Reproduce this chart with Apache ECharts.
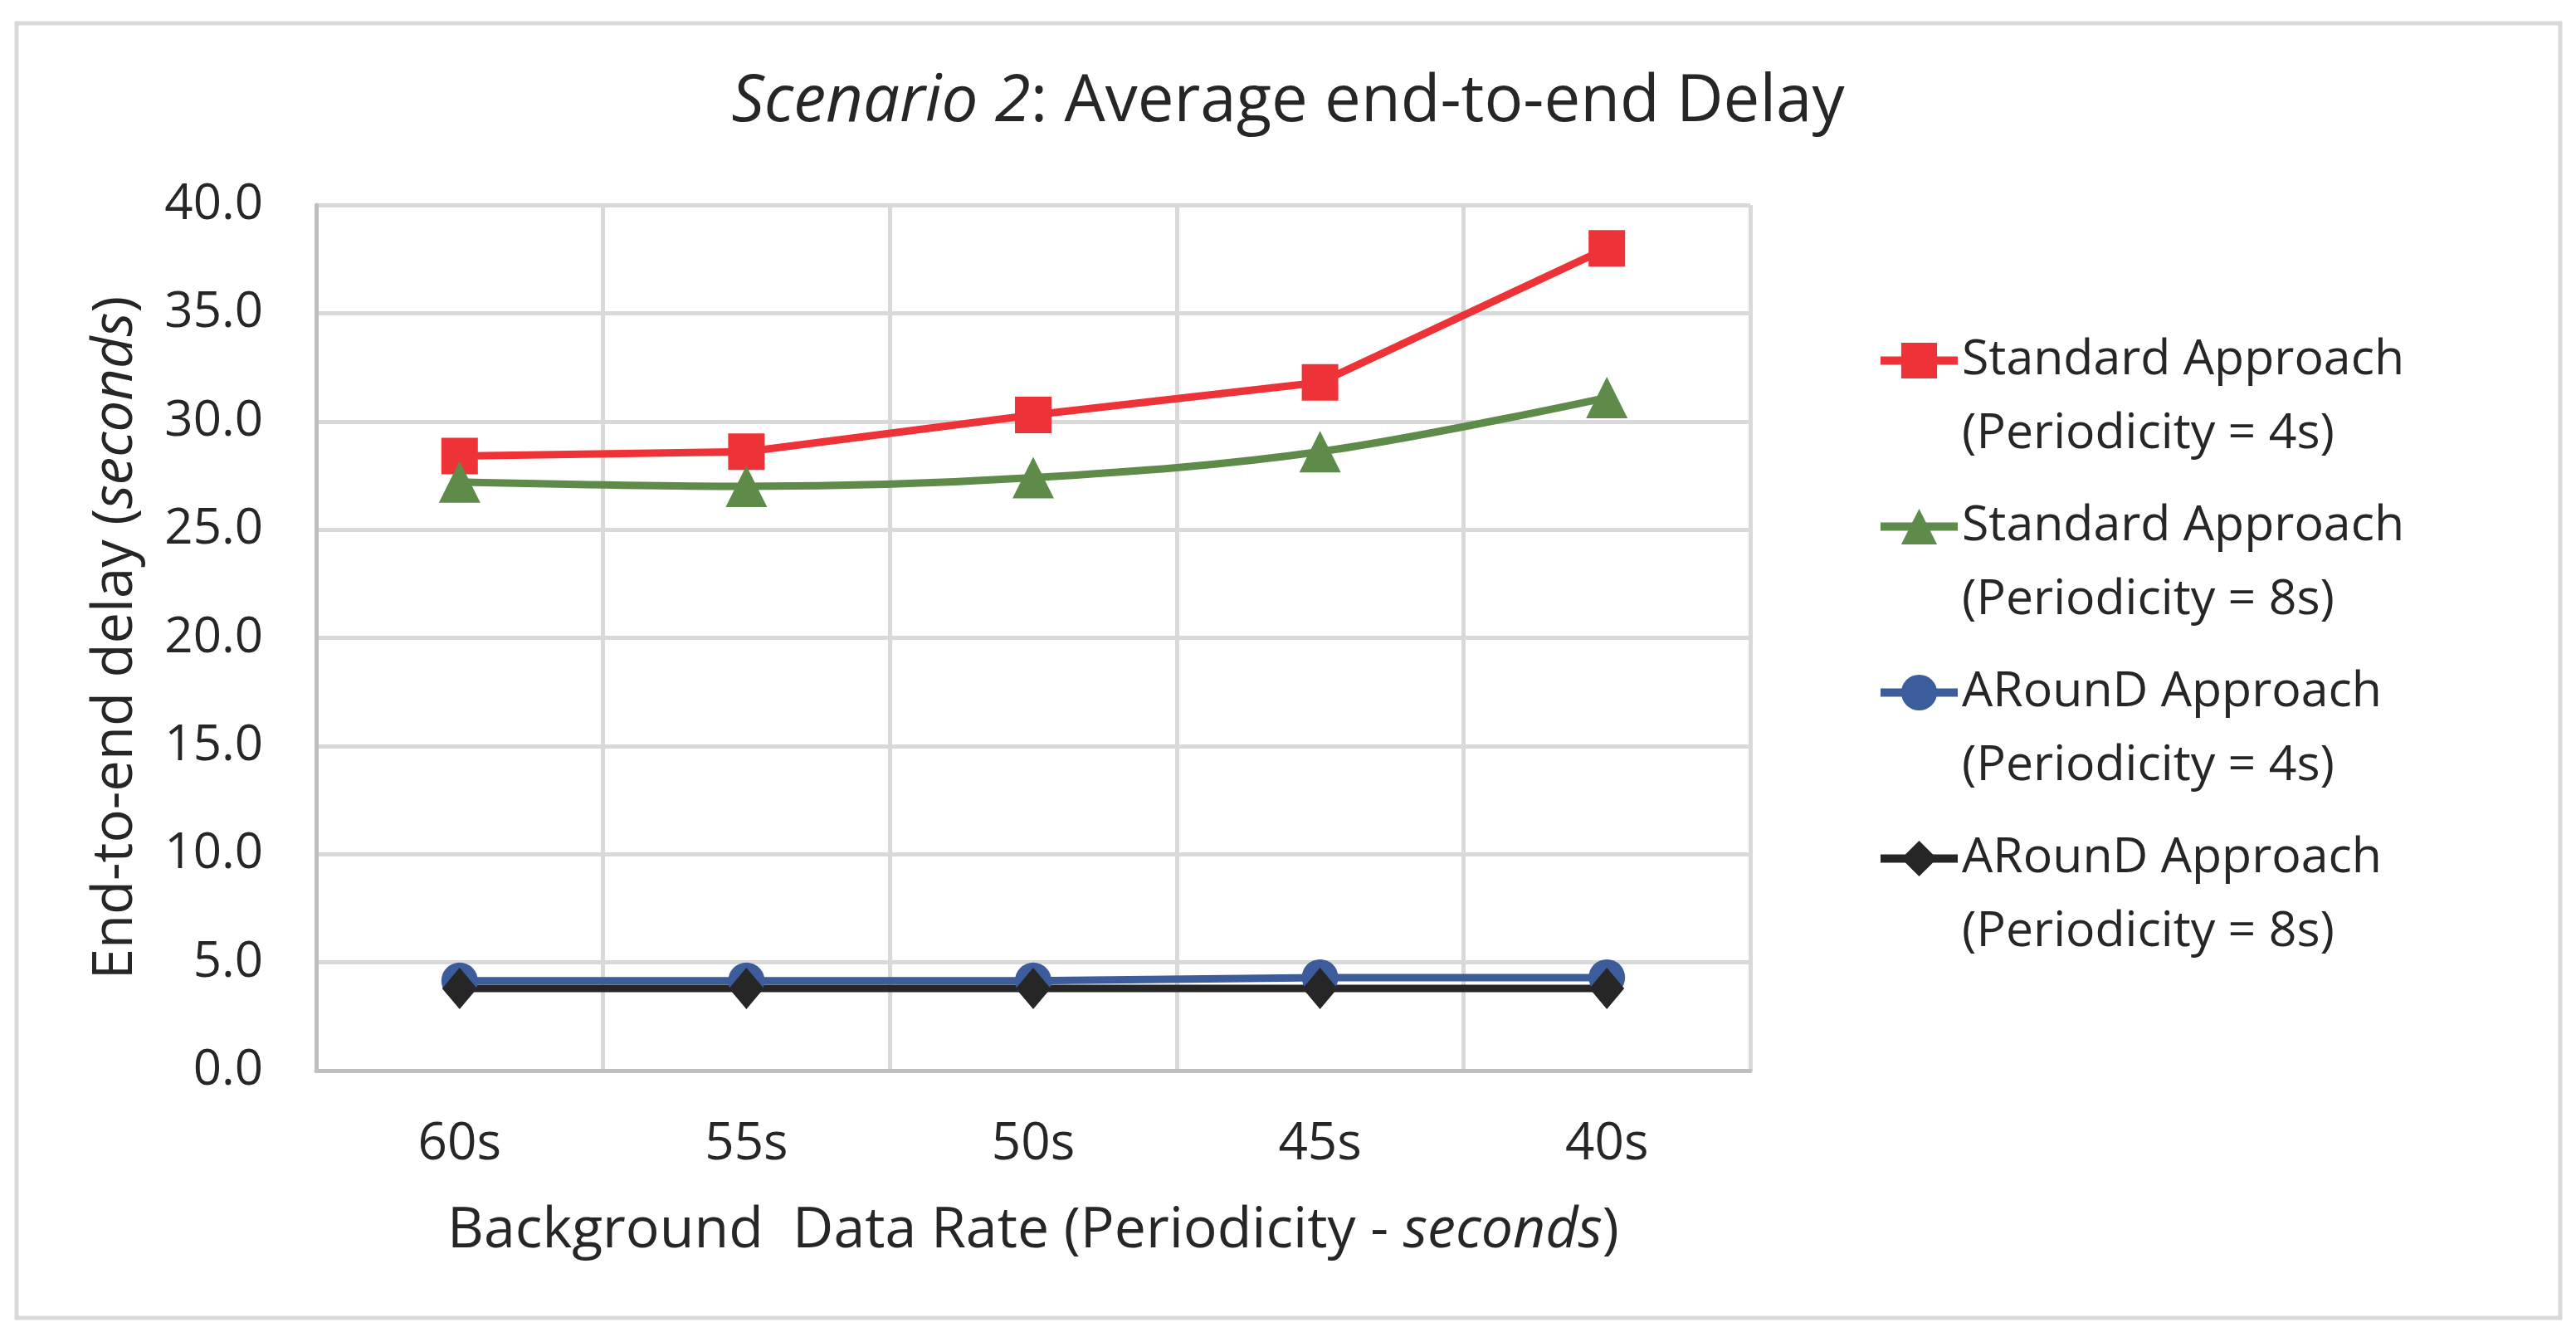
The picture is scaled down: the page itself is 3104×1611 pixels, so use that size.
<!DOCTYPE html>
<html>
<head>
<meta charset="utf-8">
<script src="https://cdn.jsdelivr.net/npm/echarts@6/dist/echarts.min.js"></script>
<style>
html,body{margin:0;padding:0;background:#fff;}
#chart{width:3104px;height:1611px;}
</style>
</head>
<body>
<div id="chart"></div>
<script>
const categories = ['60s', '55s', '50s', '45s', '40s'];
const standard4s = [28.4, 28.6, 30.3, 31.8, 38.0];
const standard8s = [27.2, 27.0, 27.4, 28.6, 31.1];
const around4s = [4.15, 4.15, 4.15, 4.3, 4.3];
const around8s = [3.8, 3.8, 3.8, 3.8, 3.8];
const seriesNames = [
  'Standard Approach\n(Periodicity = 4s)',
  'Standard Approach\n(Periodicity = 8s)',
  'ARounD Approach\n(Periodicity = 4s)',
  'ARounD Approach\n(Periodicity = 8s)'
];
const yTicks = { min: 0, max: 40, interval: 5 };

const FONT = 'Open Sans';
const TXT = '#262626';
const chart = echarts.init(document.getElementById('chart'), null, { renderer: 'canvas' });

function lineSeries(name, data, color, symbol, size, smooth) {
  return {
    name: name,
    type: 'line',
    data: data,
    smooth: smooth,
    symbol: symbol,
    symbolSize: size,
    showSymbol: true,
    lineStyle: { color: color, width: 9 },
    itemStyle: { color: color, borderWidth: 0 },
    emphasis: { disabled: true },
    animation: false
  };
}

const L = 89;
chart.setOption({
  backgroundColor: '#ffffff',
  animation: false,
  textStyle: { fontFamily: FONT, color: TXT },
  title: {
    left: 'center',
    top: 80,
    text: '{i|Scenario 2}: Average end-to-end Delay',
    textStyle: {
      fontFamily: FONT, fontSize: 78, fontWeight: 'normal', color: TXT,
      rich: { i: { fontFamily: FONT, fontSize: 78, fontStyle: 'italic', color: TXT } }
    }
  },
  graphic: [{
    type: 'rect',
    shape: { x: 20, y: 28, width: 3065, height: 1560 },
    style: { fill: 'none', stroke: '#d9d9d9', lineWidth: 5 },
    silent: true
  }],
  legend: {
    orient: 'vertical',
    left: 2256,
    top: 296,
    itemWidth: 93,
    itemHeight: 54,
    itemGap: 200 - 3 * L,
    data: seriesNames,
    formatter: name => '\n' + name,
    lineStyle: { width: 10 },
    textStyle: {
      fontFamily: FONT, fontSize: 59, color: TXT, lineHeight: L
    }
  },
  grid: { left: 381, right: 995, top: 247, bottom: 321, containLabel: false },
  xAxis: {
    type: 'category',
    data: categories,
    boundaryGap: true,
    axisLine: { show: true, lineStyle: { color: '#bfbfbf', width: 5 } },
    axisTick: { show: false },
    splitLine: { show: true, lineStyle: { color: '#d9d9d9', width: 5 } },
    axisLabel: { fontFamily: FONT, fontSize: 62, color: TXT, margin: 58 },
    name: '{n|Background  Data Rate (Periodicity - }{i|seconds}{n|)}',
    nameLocation: 'middle',
    nameGap: 160,
    nameTextStyle: {
      rich: {
        n: { fontFamily: FONT, fontSize: 68, color: TXT },
        i: { fontFamily: FONT, fontSize: 68, color: TXT, fontStyle: 'italic' }
      }
    }
  },
  yAxis: {
    type: 'value',
    min: yTicks.min,
    max: yTicks.max,
    interval: yTicks.interval,
    axisLine: { show: true, lineStyle: { color: '#bfbfbf', width: 5 } },
    axisTick: { show: false },
    splitLine: { show: true, lineStyle: { color: '#d9d9d9', width: 5 } },
    axisLabel: {
      fontFamily: FONT, fontSize: 60, color: TXT, margin: 64,
      formatter: v => v.toFixed(1)
    },
    name: '{n|End-to-end delay (}{i|seconds}{n|)}',
    nameLocation: 'middle',
    nameRotate: 90,
    nameGap: 208,
    nameTextStyle: {
      rich: {
        n: { fontFamily: FONT, fontSize: 67, color: TXT },
        i: { fontFamily: FONT, fontSize: 67, color: TXT, fontStyle: 'italic' }
      }
    }
  },
  series: [
    lineSeries(seriesNames[0], standard4s, '#ee3338', 'rect', 44, false),
    lineSeries(seriesNames[1], standard8s, '#5e8b4a', 'triangle', 50, 0.35),
    lineSeries(seriesNames[2], around4s, '#3d5c9c', 'circle', 44, false),
    lineSeries(seriesNames[3], around8s, '#262626', 'diamond', [42, 50], false)
  ]
});
</script>
</body>
</html>
